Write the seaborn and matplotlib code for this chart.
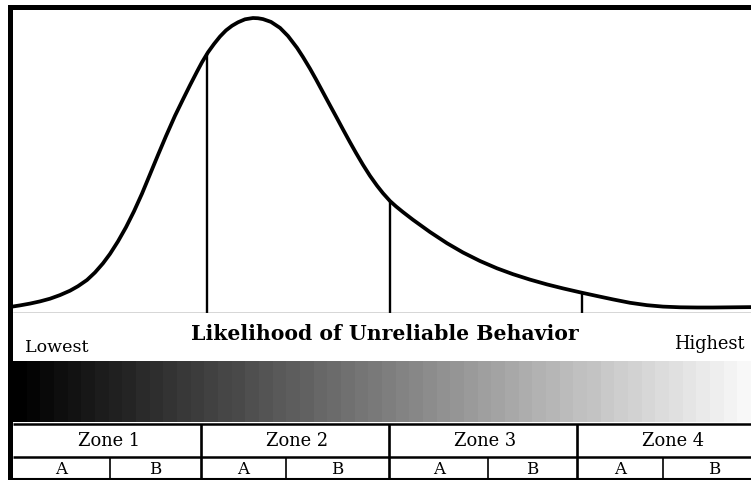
import numpy as np
import pandas as pd
import matplotlib
matplotlib.use("Agg")
import matplotlib.pyplot as plt
from matplotlib.patches import Rectangle
import seaborn as sns

# ---------------- data ----------------
# position on the "likelihood" scale (0 = lowest, 100 = end of zone 4)
curve_x = [0.00, 0.93, 2.26, 3.59, 4.92, 6.25, 7.58, 8.64, 9.84, 10.90, 11.97,
           12.90, 13.96, 15.03, 16.09, 17.15, 18.22, 19.28, 20.35, 21.54, 22.61,
           23.54, 24.47, 25.13, 25.93, 26.73, 27.53, 28.32, 29.12, 29.92, 30.85,
           31.91, 32.58, 33.24, 34.31, 35.51, 36.57, 37.77, 38.56, 39.49, 40.29,
           41.22, 42.15, 43.09, 43.88, 44.81, 45.61, 46.54, 47.47, 48.40, 49.20,
           50.13, 50.93, 51.86, 53.19, 55.45, 57.71, 59.84, 62.10, 64.36, 66.49,
           68.75, 71.01, 73.14, 75.40, 77.66, 79.79, 82.05, 84.31, 86.44, 88.70,
           90.96, 93.09, 98.14]
# relative frequency (peak = 100)
curve_y = [2.20, 2.57, 3.18, 3.92, 4.83, 6.05, 7.53, 9.05, 11.15, 13.68, 16.79,
           19.97, 24.19, 28.99, 34.36, 40.30, 46.86, 53.38, 59.80, 66.62, 72.20,
           76.96, 81.55, 84.70, 88.07, 90.88, 93.41, 95.47, 97.03, 98.21, 99.22,
           99.66, 99.58, 99.29, 98.34, 96.32, 93.58, 89.59, 86.49, 82.57, 78.95,
           74.56, 70.17, 65.78, 62.03, 57.70, 54.09, 50.07, 46.35, 43.04, 40.47,
           37.84, 36.01, 34.09, 31.49, 27.36, 23.58, 20.44, 17.57, 15.10, 13.11,
           11.28, 9.66, 8.31, 6.99, 5.74, 4.59, 3.45, 2.64, 2.16, 1.93,
           1.86, 1.86, 1.99]
cut_x = [25.86, 50.13, 75.66]            # vertical lines under the curve
zone_edges = [0, 25, 50, 75, 100]
zone_labels = ["Zone 1", "Zone 2", "Zone 3", "Zone 4"]
sub_splits = [12.9, 36.3, 63.2, 86.4]    # A | B split inside each zone
sub_labels = ["A", "B"]
title_text = "Likelihood of Unreliable Behavior"
low_text, high_text = "Lowest", "Highest"

# ---------------- figure ----------------
sns.set_theme(style="white")
plt.rcParams["font.family"] = ["DejaVu Serif"]
W, H = 751, 480
fig = plt.figure(figsize=(W / 100, H / 100), dpi=100)
fig.patch.set_facecolor("white")

XMAX = 98.14
left = 13 / W
width = (W - 13) / W

# curve axes: px rows 10..313
ax = fig.add_axes([left, (H - 313) / H, width, (313 - 10) / H])
df = pd.DataFrame({"x": curve_x, "y": curve_y})
sns.lineplot(data=df, x="x", y="y", ax=ax, color="black", lw=2.7,
             solid_joinstyle="round", solid_capstyle="round")
cut_h = np.interp(cut_x, curve_x, curve_y)
ax.vlines(cut_x, 0, cut_h, color="black", lw=1.7)
ax.axhline(0, color="#333333", lw=1.0)
ax.set_xlim(0, XMAX)
ax.set_ylim(0, 303 / 2.96)
ax.axis("off")

# lower axes: px rows 313..480 (y axis in pixel rows)
bx = fig.add_axes([left, 0, width, (480 - 313) / H])
bx.axis("off")

bx.text(49.5, 333.5, title_text, ha="center", va="center", fontsize=14.7,
        fontweight="bold", color="black")
bx.text(1.6, 347, low_text, ha="left", va="center", fontsize=12.6, color="black")
bx.text(97.3, 344, high_text, ha="right", va="center", fontsize=12.9, color="black")

grad = np.linspace(0, 0.97, 54)[None, :]
bx.imshow(grad, cmap="gray", vmin=0, vmax=1, aspect="auto",
          extent=[0, XMAX, 422, 361], interpolation="nearest")
bx.set_xlim(0, XMAX)
bx.set_ylim(480, 313)

# table
bx.hlines([423.5, 457], 0, XMAX, color="black", lw=1.8)
bx.hlines([479.3], 0, XMAX, color="black", lw=1.5)
bx.vlines(zone_edges[1:-1], 423.5, 480, color="black", lw=1.9)
bx.vlines(sub_splits, 457, 480, color="black", lw=1.2)
for i, lab in enumerate(zone_labels):
    c = (zone_edges[i] + zone_edges[i + 1]) / 2
    bx.text(c + 0.3, 440.5, lab, ha="center", va="center", fontsize=12.9, color="black")
    bx.text((zone_edges[i] + sub_splits[i]) / 2, 470, sub_labels[0],
            ha="center", va="center", fontsize=12, color="black")
    bx.text((sub_splits[i] + zone_edges[i + 1]) / 2, 470, sub_labels[1],
            ha="center", va="center", fontsize=12, color="black")

# frame: thick left and top borders
fig.add_artist(Rectangle((8 / W, 0), 5 / W, (H - 5) / H, transform=fig.transFigure,
                         facecolor="black", edgecolor="none"))
fig.add_artist(Rectangle((8 / W, (H - 10) / H), (W - 8) / W, 5 / H,
                         transform=fig.transFigure, facecolor="black", edgecolor="none"))

fig.savefig("out.png", dpi=100, facecolor="white")
